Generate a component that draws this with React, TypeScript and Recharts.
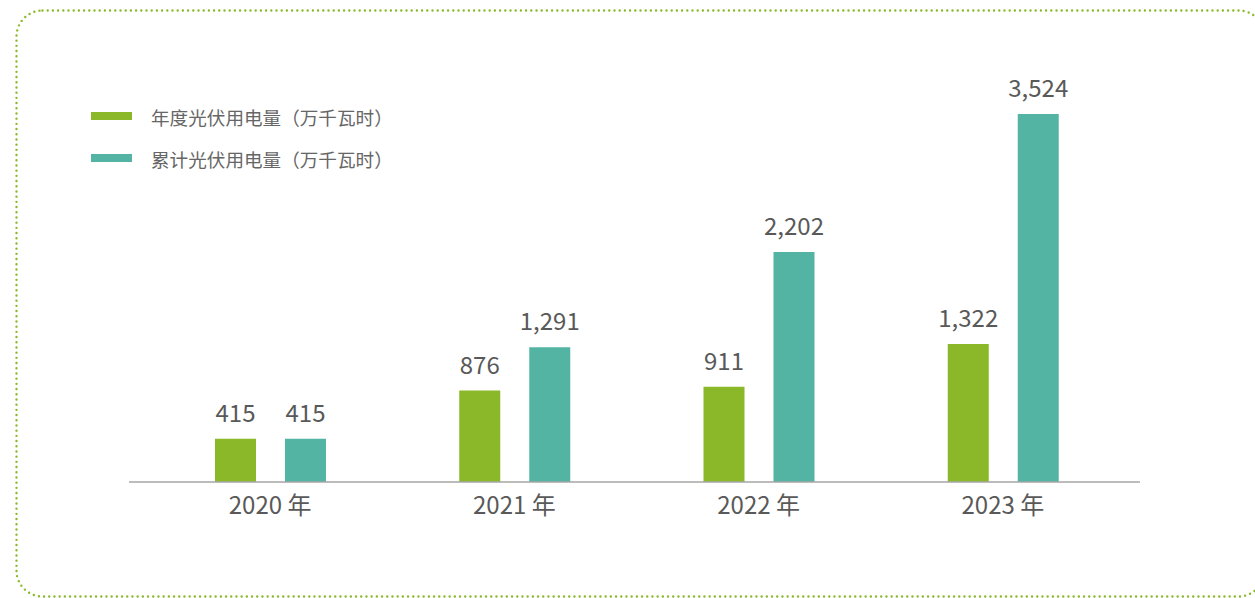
import React from 'react';
import { BarChart, Bar, XAxis, YAxis, Legend, LabelList } from 'recharts';

const categories = ['2020 年', '2021 年', '2022 年', '2023 年'];
const annualValues = [415, 876, 911, 1322];
const cumulativeValues = [415, 1291, 2202, 3524];
const seriesNames = ['年度光伏用电量（万千瓦时）', '累计光伏用电量（万千瓦时）'];
const colors = ['#8AB829', '#53B4A4'];

const data = categories.map((c, i) => ({
  name: c,
  annual: annualValues[i],
  cumulative: cumulativeValues[i],
}));

const FONT = '"Noto Sans CJK SC", "Noto Sans", sans-serif';

const fmt = (v: any) => Number(v).toLocaleString('en-US');

const Tick = (props: any) => {
  const { x, y, payload } = props;
  return (
    <text x={x} y={y + 32} textAnchor="middle" fill="#595959" fontSize={24} fontFamily={FONT}>
      {payload.value}
    </text>
  );
};

const LegendContent = () => (
  <div style={{ fontFamily: FONT }}>
    {seriesNames.map((n, i) => (
      <div key={n} style={{ display: 'flex', alignItems: 'center', height: 24, marginBottom: i === 0 ? 18 : 0 }}>
        <div style={{ width: 41, height: 8, background: colors[i], marginRight: 19 }} />
        <span style={{ fontSize: 18.6, color: '#666666', whiteSpace: 'nowrap' }}>{n}</span>
      </div>
    ))}
  </div>
);

export default function App() {
  return (
    <div style={{ position: 'absolute', left: 0, top: 0, width: 1255, height: 598, overflow: 'hidden', background: '#fff' }}>
      <svg width={1255} height={598} style={{ position: 'absolute', left: 0, top: 0 }}>
        <rect
          x={16.5}
          y={10.5}
          width={1248}
          height={586}
          rx={26}
          ry={26}
          fill="none"
          stroke="#8AB829"
          strokeWidth={2.4}
          strokeDasharray="0 5.2"
          strokeLinecap="round"
        />
      </svg>
      <div style={{ position: 'absolute', left: 0, top: 0 }}>
        <BarChart
          width={1255}
          height={598}
          data={data}
          margin={{ top: 114, right: 115, bottom: 76, left: 129 }}
          barSize={41}
          barGap={29}
        >
          <XAxis
            dataKey="name"
            height={40}
            tickLine={false}
            tickSize={0}
            tickMargin={0}
            axisLine={{ stroke: '#A6A6A6', strokeWidth: 1.5 }}
            tick={<Tick />}
            padding={{ left: 19, right: 15 }}
            interval={0}
          />
          <YAxis hide domain={[0, 3524]} />
          <Legend
            layout="horizontal"
            verticalAlign="middle"
            align="center"
            wrapperStyle={{ left: 91, top: 104, width: 340 }}
            content={<LegendContent />}
          />
          <Bar dataKey="annual" fill={colors[0]} isAnimationActive={false}>
            <LabelList dataKey="annual" position="top" offset={17} formatter={fmt} fill="#595959" fontSize={24} fontFamily={FONT} />
          </Bar>
          <Bar dataKey="cumulative" fill={colors[1]} isAnimationActive={false}>
            <LabelList dataKey="cumulative" position="top" offset={17} formatter={fmt} fill="#595959" fontSize={24} fontFamily={FONT} />
          </Bar>
        </BarChart>
      </div>
    </div>
  );
}
